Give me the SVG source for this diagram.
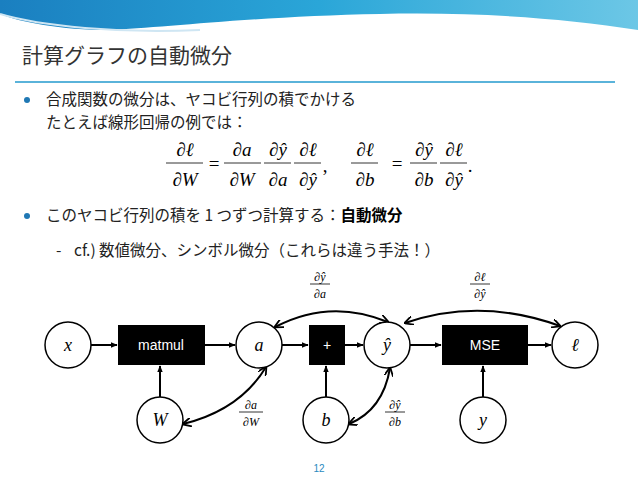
<svg xmlns="http://www.w3.org/2000/svg" width="638" height="479" viewBox="0 0 638 479">
<defs>
<linearGradient id="wave" x1="0" x2="1" y1="0" y2="0"><stop offset="0" stop-color="#1a7fc0"/><stop offset="0.5" stop-color="#2aa6d8"/><stop offset="1" stop-color="#6cc7e6"/></linearGradient>
<marker id="ah" viewBox="0 0 10 10" refX="9" refY="5" markerWidth="7" markerHeight="7" orient="auto-start-reverse" markerUnits="userSpaceOnUse"><path d="M0,1 L10,5 L0,9 z" fill="#000"/></marker>
<marker id="ahb" viewBox="0 0 10 10" refX="9" refY="5" markerWidth="9" markerHeight="9" orient="auto-start-reverse" markerUnits="userSpaceOnUse"><path d="M0,0 L10,5 L0,10" fill="none" stroke="#000" stroke-width="2"/></marker>
</defs>
<style>
.jp{font-family:"Noto Sans CJK JP","Liberation Sans",sans-serif;font-size:15.5px;fill:#222}
.m{font-family:"Liberation Serif",serif;font-style:italic;fill:#000}
.n{fill:#fff;stroke:#000;stroke-width:1.5}
.op{fill:#000}
.opt{font-family:"Liberation Sans",sans-serif;font-size:14px;fill:#fff;text-anchor:middle}
.e{stroke:#000;stroke-width:2;fill:none}
.fl{stroke:#000;stroke-width:0.8}
</style>
<rect width="638" height="479" fill="#fff"/>
<path d="M0,0 H638 V30 C560,18 480,12 380,14 C260,16 160,28 110,30 C60,30 20,22 0,14 Z" fill="url(#wave)"/>
<path d="M0,14 C40,26 120,34 200,30" stroke="#cfe6f3" stroke-width="2" fill="none"/>
<text x="22" y="63" font-family="Noto Sans CJK JP,sans-serif" font-size="21" fill="#333">計算グラフの自動微分</text>
<line x1="15" y1="82" x2="615" y2="82" stroke="#5ab3da" stroke-width="2"/>
<circle cx="27" cy="100" r="3" fill="#1f78b4"/>
<text class="jp" x="46" y="105">合成関数の微分は、ヤコビ行列の積でかける</text>
<text class="jp" x="46" y="128">たとえば線形回帰の例では：</text>
<g class="m" font-size="19" text-anchor="middle">
<text x="185" y="156">∂ℓ</text><line class="fl" x1="166" y1="163" x2="203" y2="163"/><text x="185" y="186">∂W</text>
<text x="214" y="170" font-style="normal">=</text>
<text x="242" y="156">∂a</text><line class="fl" x1="224" y1="163" x2="261" y2="163"/><text x="242" y="186">∂W</text>
<text x="278" y="156">∂ŷ</text><line class="fl" x1="264" y1="163" x2="291" y2="163"/><text x="278" y="186">∂a</text>
<text x="308" y="156">∂ℓ</text><line class="fl" x1="294" y1="163" x2="321" y2="163"/><text x="308" y="186">∂ŷ</text>
<text x="325" y="172" font-style="normal">,</text>
<text x="365" y="156">∂ℓ</text><line class="fl" x1="351" y1="163" x2="378" y2="163"/><text x="365" y="186">∂b</text>
<text x="397" y="170" font-style="normal">=</text>
<text x="424" y="156">∂ŷ</text><line class="fl" x1="410" y1="163" x2="437" y2="163"/><text x="424" y="186">∂b</text>
<text x="454" y="156">∂ℓ</text><line class="fl" x1="440" y1="163" x2="467" y2="163"/><text x="454" y="186">∂ŷ</text>
<text x="470" y="172" font-style="normal">.</text>
</g>
<circle cx="27" cy="216" r="3" fill="#1f78b4"/>
<text class="jp" x="46" y="221">このヤコビ行列の積を 1 つずつ計算する：<tspan font-weight="bold" fill="#000">自動微分</tspan></text>
<text class="jp" x="56" y="256" font-size="12" fill="#888">-</text>
<text class="jp" x="74" y="256" font-size="12">cf.) 数値微分、シンボル微分（これらは違う手法！）</text>

<g id="connectors">
<line class="e" x1="91" y1="345" x2="117" y2="345" marker-end="url(#ah)"/>
<line class="e" x1="205" y1="345" x2="235" y2="345" marker-end="url(#ah)"/>
<line class="e" x1="282" y1="345" x2="308" y2="345" marker-end="url(#ah)"/>
<line class="e" x1="345" y1="345" x2="363" y2="345" marker-end="url(#ah)"/>
<line class="e" x1="410" y1="345" x2="441" y2="345" marker-end="url(#ah)"/>
<line class="e" x1="528" y1="345" x2="551" y2="345" marker-end="url(#ah)"/>
<line class="e" x1="160" y1="397" x2="160" y2="366" marker-end="url(#ah)"/>
<line class="e" x1="326" y1="397" x2="326" y2="366" marker-end="url(#ah)"/>
<line class="e" x1="483" y1="397" x2="483" y2="366" marker-end="url(#ah)"/>
<path class="e" stroke-width="2.5" d="M275,327 Q330,298 388,322" marker-start="url(#ahb)" marker-end="url(#ahb)"/>
<path class="e" stroke-width="2.5" d="M405,323 Q480,297 560,326" marker-start="url(#ahb)" marker-end="url(#ahb)"/>
<path class="e" stroke-width="2.5" d="M183,424 Q240,410 266,367" marker-start="url(#ahb)" marker-end="url(#ahb)"/>
<path class="e" stroke-width="2.5" d="M349,424 Q383,410 390,368" marker-start="url(#ahb)" marker-end="url(#ahb)"/>
</g>
<g class="m" font-size="12" text-anchor="middle">
<text x="320" y="281">∂ŷ</text><line class="fl" x1="310" y1="284" x2="330" y2="284"/><text x="320" y="298">∂a</text>
<text x="480" y="281">∂ℓ</text><line class="fl" x1="470" y1="284" x2="490" y2="284"/><text x="480" y="298">∂ŷ</text>
<text x="251" y="409">∂a</text><line class="fl" x1="239" y1="412" x2="263" y2="412"/><text x="251" y="426">∂W</text>
<text x="395" y="409">∂ŷ</text><line class="fl" x1="385" y1="412" x2="405" y2="412"/><text x="395" y="426">∂b</text>
</g>
<g id="n-x"><circle class="n" cx="68" cy="345" r="23"/><text class="m" x="68" y="351" font-size="18" text-anchor="middle">x</text></g>
<g id="n-matmul"><rect class="op" x="118" y="325" width="87" height="40"/><text class="opt" x="161" y="350">matmul</text></g>
<g id="n-a"><circle class="n" cx="259" cy="345" r="23"/><text class="m" x="259" y="351" font-size="18" text-anchor="middle">a</text></g>
<g id="n-plus"><rect class="op" x="309" y="325" width="36" height="40"/><text class="opt" x="327" y="350" font-size="12">+</text></g>
<g id="n-yhat"><circle class="n" cx="387" cy="345" r="23"/><text class="m" x="387" y="351" font-size="18" text-anchor="middle">ŷ</text></g>
<g id="n-mse"><rect class="op" x="442" y="325" width="86" height="40"/><text class="opt" x="485" y="350">MSE</text></g>
<g id="n-l"><circle class="n" cx="575" cy="345" r="23"/><text class="m" x="575" y="351" font-size="18" text-anchor="middle">ℓ</text></g>
<g id="n-W"><circle class="n" cx="160" cy="420" r="23"/><text class="m" x="160" y="426" font-size="18" text-anchor="middle">W</text></g>
<g id="n-b"><circle class="n" cx="326" cy="420" r="23"/><text class="m" x="326" y="426" font-size="18" text-anchor="middle">b</text></g>
<g id="n-y"><circle class="n" cx="483" cy="420" r="23"/><text class="m" x="483" y="426" font-size="18" text-anchor="middle">y</text></g>
<text x="319" y="472" font-family="Liberation Sans,sans-serif" font-size="10" fill="#2a8ac0" text-anchor="middle">12</text>
</svg>
